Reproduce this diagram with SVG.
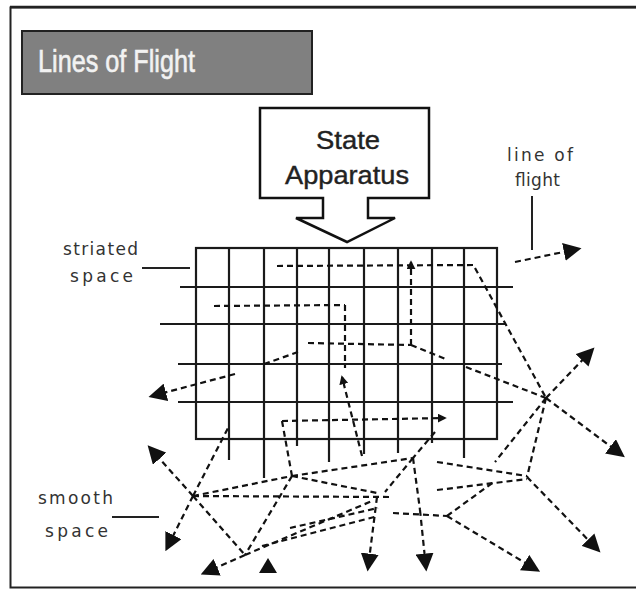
<svg xmlns="http://www.w3.org/2000/svg" width="636" height="590" viewBox="0 0 636 590">
<style>
.frame{fill:#fff;stroke:#222;stroke-width:2}
.grid{stroke:#1a1a1a;stroke-width:2.2;fill:none}
.dash{stroke:#111;stroke-width:2.2;stroke-dasharray:6 4;fill:none}
.lbl{font-family:"DejaVu Sans",sans-serif;font-size:17px;fill:#333}
.sans{font-family:"Liberation Sans",Arial,sans-serif}
.lead{stroke:#222;stroke-width:2}
.tip{fill:#111}
</style>
<defs>
<marker id="ah" viewBox="0 0 10 10" refX="8" refY="5" markerWidth="18" markerHeight="18" markerUnits="userSpaceOnUse" orient="auto"><path d="M0,0 L10,5 L0,10 z" fill="#111"/></marker>
<marker id="ahs" viewBox="0 0 10 10" refX="8" refY="5" markerWidth="9" markerHeight="9" markerUnits="userSpaceOnUse" orient="auto"><path d="M0,0 L10,5 L0,10 z" fill="#111"/></marker>
</defs>
<rect x="0" y="0" width="636" height="590" fill="#fff"/>
<rect class="frame" x="10.5" y="7.5" width="640" height="580"/>
<line x1="10" y1="7" x2="636" y2="7" stroke="#222" stroke-width="2.5"/>

<g id="title">
<rect x="22" y="31" width="290" height="63" fill="#808080" stroke="#222" stroke-width="2"/>
<text class="sans" x="38" y="72" font-size="31" fill="#f2f2f2" stroke="#f2f2f2" stroke-width="0.6" textLength="157" lengthAdjust="spacingAndGlyphs">Lines of Flight</text>
</g>

<g id="state-apparatus">
<polygon points="260,108 429,108 429,198 368,198 368,218 395,218 347,242 296,218 323,218 323,198 260,198" fill="#fff" stroke="#111" stroke-width="2.5" stroke-linejoin="miter"/>
<text class="sans" x="316" y="149" font-size="26" fill="#222" stroke="#222" stroke-width="0.4" textLength="64" lengthAdjust="spacingAndGlyphs">State</text>
<text class="sans" x="285" y="184" font-size="26" fill="#222" stroke="#222" stroke-width="0.4" textLength="124" lengthAdjust="spacingAndGlyphs">Apparatus</text>
</g>

<g id="striated-space">
<rect class="grid" x="196" y="248" width="301" height="191"/>
<line class="grid" x1="180" y1="287" x2="513" y2="287"/>
<line class="grid" x1="160" y1="324" x2="506" y2="324"/>
<line class="grid" x1="178" y1="364" x2="502" y2="364"/>
<line class="grid" x1="178" y1="402" x2="513" y2="402"/>
<line class="grid" x1="229" y1="248" x2="229" y2="460"/>
<line class="grid" x1="264" y1="248" x2="264" y2="478"/>
<line class="grid" x1="297" y1="248" x2="297" y2="446"/>
<line class="grid" x1="329" y1="248" x2="329" y2="462"/>
<line class="grid" x1="364" y1="248" x2="364" y2="454"/>
<line class="grid" x1="398" y1="248" x2="398" y2="453"/>
<line class="grid" x1="432" y1="248" x2="432" y2="443"/>
<line class="grid" x1="464" y1="248" x2="464" y2="458"/>
</g>

<g id="label-striated">
<text class="lbl" x="63" y="255" textLength="75" lengthAdjust="spacing">striated</text>
<text class="lbl" x="70" y="282" textLength="63" lengthAdjust="spacing">space</text>
<line class="lead" x1="142" y1="268" x2="190" y2="268"/>
</g>

<g id="label-smooth">
<text class="lbl" x="38" y="504" textLength="75" lengthAdjust="spacing">smooth</text>
<text class="lbl" x="45" y="537" textLength="63" lengthAdjust="spacing">space</text>
<line class="lead" x1="112" y1="517" x2="159" y2="517"/>
</g>

<g id="label-line-of-flight">
<text class="lbl" x="507" y="161" textLength="66" lengthAdjust="spacing">line of</text>
<text class="lbl" x="515" y="186" textLength="45" lengthAdjust="spacing">flight</text>
<line class="lead" x1="532" y1="196" x2="532" y2="250"/>
</g>

<g id="connectors">
<line class="dash" x1="277" y1="266" x2="475" y2="265"/>
<line class="dash" x1="411" y1="345" x2="411" y2="262" marker-end="url(#ahs)"/>
<line class="dash" x1="214" y1="306" x2="345" y2="305"/>
<line class="dash" x1="345" y1="305" x2="345" y2="368"/>
<line class="dash" x1="308" y1="343" x2="411" y2="345"/>
<line class="dash" x1="411" y1="345" x2="448" y2="360"/>
<line class="dash" x1="264" y1="364" x2="298" y2="352"/>
<line class="dash" x1="235" y1="374" x2="152" y2="396" marker-end="url(#ah)"/>
<line class="dash" x1="282" y1="421" x2="445" y2="418" marker-end="url(#ahs)"/>
<line class="dash" x1="282" y1="421" x2="292" y2="476"/>
<line class="dash" x1="362" y1="456" x2="342" y2="377" marker-end="url(#ahs)"/>
<line class="dash" x1="475" y1="268" x2="546" y2="398"/>
<line class="dash" x1="546" y1="398" x2="592" y2="350" marker-end="url(#ah)"/>
<line class="dash" x1="546" y1="398" x2="622" y2="455" marker-end="url(#ah)"/>
<line class="dash" x1="466" y1="367" x2="546" y2="398"/>
<line class="dash" x1="546" y1="398" x2="495" y2="462"/>
<line class="dash" x1="546" y1="398" x2="527" y2="477"/>
<line class="dash" x1="527" y1="477" x2="598" y2="550" marker-end="url(#ah)"/>
<line class="dash" x1="437" y1="462" x2="527" y2="476"/>
<line class="dash" x1="437" y1="490" x2="527" y2="479"/>
<line class="dash" x1="447" y1="516" x2="495" y2="481"/>
<line class="dash" x1="447" y1="516" x2="537" y2="570" marker-end="url(#ah)"/>
<line class="dash" x1="393" y1="513" x2="447" y2="516"/>
<line class="dash" x1="435" y1="432" x2="413" y2="458"/>
<line class="dash" x1="413" y1="458" x2="420" y2="510"/>
<line class="dash" x1="420" y1="510" x2="426" y2="568" marker-end="url(#ah)"/>
<line class="dash" x1="413" y1="458" x2="385" y2="492"/>
<line class="dash" x1="193" y1="496" x2="390" y2="497"/>
<line class="dash" x1="193" y1="496" x2="292" y2="476"/>
<line class="dash" x1="193" y1="496" x2="150" y2="448" marker-end="url(#ah)"/>
<line class="dash" x1="193" y1="496" x2="228" y2="428"/>
<line class="dash" x1="193" y1="496" x2="167" y2="548" marker-end="url(#ah)"/>
<line class="dash" x1="193" y1="496" x2="245" y2="555"/>
<line class="dash" x1="292" y1="476" x2="413" y2="458"/>
<line class="dash" x1="292" y1="476" x2="245" y2="555"/>
<line class="dash" x1="245" y1="555" x2="372" y2="501"/>
<line class="dash" x1="262" y1="546" x2="378" y2="516"/>
<line class="dash" x1="290" y1="528" x2="378" y2="508"/>
<line class="dash" x1="292" y1="476" x2="377" y2="493"/>
<line class="dash" x1="377" y1="497" x2="368" y2="568" marker-end="url(#ah)"/>
<line class="dash" x1="245" y1="555" x2="204" y2="573" marker-end="url(#ah)"/>
<polygon class="tip" points="268,558 277,573 259,573"/>
<line class="dash" x1="515" y1="262" x2="578" y2="249" marker-end="url(#ah)"/>
</g>
</svg>
